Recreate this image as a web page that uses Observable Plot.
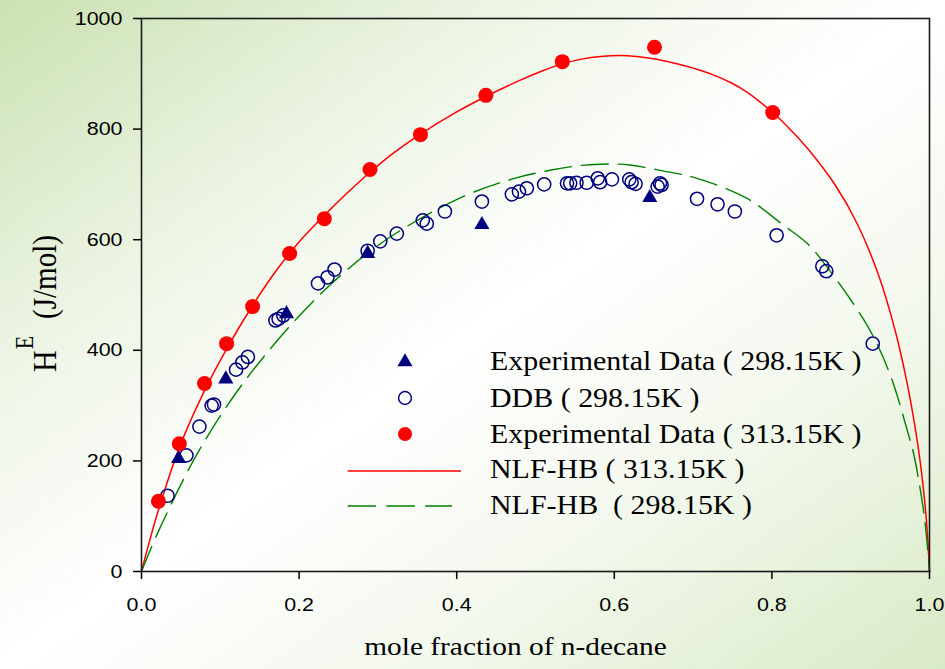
<!DOCTYPE html>
<html>
<head>
<meta charset="utf-8">
<script src="https://cdn.jsdelivr.net/npm/d3@7"></script>
<script src="https://cdn.jsdelivr.net/npm/@observablehq/plot@0.6"></script>
<style>
  html, body { margin: 0; padding: 0; }
  body {
    width: 945px; height: 669px; overflow: hidden;
    background: linear-gradient(to bottom right, #cbe1b2 0%, #eef5e6 28%, #ffffff 50%, #f3f8ed 72%, #d9eac6 100%);
  }
  #chart { position: relative; width: 945px; height: 669px; }
</style>
</head>
<body>
<div id="chart"></div>
<script>
// ---- Data ----
const xTicks = [0, 0.2, 0.4, 0.6, 0.8, 1.0];
const yTicks = [0, 200, 400, 600, 800, 1000];

// Experimental Data (298.15K) - filled triangles
const exp298X = [0.047, 0.107, 0.184, 0.287, 0.432, 0.645];
const exp298Y = [204, 348, 466, 575, 627, 676];

// DDB (298.15K) - open circles
const ddbX = [0.033, 0.057, 0.0735, 0.089, 0.092, 0.120, 0.128, 0.135, 0.170, 0.174, 0.180,
  0.224, 0.236, 0.245, 0.287, 0.303, 0.324, 0.357, 0.362, 0.385, 0.432, 0.470, 0.479, 0.489,
  0.511, 0.540, 0.544, 0.552, 0.565, 0.579, 0.582, 0.597, 0.619, 0.622, 0.627, 0.655, 0.658,
  0.660, 0.705, 0.731, 0.753, 0.806, 0.864, 0.869, 0.928];
const ddbY = [137, 210, 262, 300, 302, 365, 378, 388, 454, 457, 463,
  521, 532, 546, 580, 597, 611, 635, 629, 651, 669, 682, 687, 693,
  700, 702, 702, 703, 703, 711, 704, 709, 709, 704, 701, 696, 702,
  699, 674, 664, 651, 608, 552, 543, 412];

// Experimental Data (313.15K) - filled red circles
const exp313X = [0.0215, 0.048, 0.080, 0.108, 0.141, 0.188, 0.232, 0.290, 0.354, 0.437, 0.534, 0.651, 0.801];
const exp313Y = [127, 231, 340, 412, 479, 575, 638, 727, 790, 861, 922, 948, 830];

// NLF-HB (313.15K) - red solid curve
const fit313X = [0, 0.01, 0.02, 0.048, 0.08, 0.109, 0.141, 0.172, 0.2, 0.232, 0.26, 0.29, 0.32, 0.354,
  0.4, 0.437, 0.48, 0.51, 0.534, 0.56, 0.5825, 0.6066, 0.6282, 0.6497, 0.67, 0.6904, 0.7069, 0.7246,
  0.7462, 0.7678, 0.801, 0.8236, 0.8464, 0.8807, 0.9086, 0.9353, 0.9569, 0.9708, 0.981, 0.9886,
  0.9949, 0.9975, 1.0];
const fit313Y = [0, 54, 104, 224, 327, 405, 481, 546, 596, 644, 683, 722, 757, 791,
  831, 859, 888, 906, 918, 927, 931.3, 933, 931.3, 927.2, 921.3, 914.2, 907.3, 898.5,
  885.1, 867.5, 830, 799, 763, 698, 628, 536, 433, 346, 267, 194,
  112, 65, 0];

// NLF-HB (298.15K) - green dashed curve
const fit298X = [0, 0.02, 0.06, 0.087, 0.119, 0.155, 0.198, 0.24, 0.29, 0.338, 0.408, 0.471, 0.52,
  0.556, 0.59, 0.62, 0.66, 0.705, 0.768, 0.814, 0.845, 0.873, 0.915, 0.935, 0.954, 0.971, 0.98,
  0.99, 0.995, 1.0];
const fit298Y = [0, 68, 185, 252, 321, 388, 459, 519, 579, 625, 678, 710, 726,
  734, 737, 735, 725, 711, 675, 627, 593, 545, 459, 407, 340, 259, 212,
  133, 80, 0];

const legendLabels = [
  "Experimental Data ( 298.15K )",
  "DDB ( 298.15K )",
  "Experimental Data ( 313.15K )",
  "NLF-HB ( 313.15K )",
  "NLF-HB  ( 298.15K )"
];
const xTitle = "mole fraction of n-decane";

// ---- Build tables ----
const zip = (xs, ys) => xs.map((x, i) => ({x, y: ys[i]}));
const exp298 = zip(exp298X, exp298Y);
const ddb = zip(ddbX, ddbY);
const exp313 = zip(exp313X, exp313Y);
const fit313 = zip(fit313X, fit313Y);
const fit298 = zip(fit298X, fit298Y);

const NAVY = "#00007f", RED = "#ff0000", GREEN = "#008000";
const SX = 1.13; // horizontal stretch of the reference's lettering
const SERIF = "'Liberation Serif', 'Times New Roman', 'DejaVu Serif', serif";
const SANS = "'Liberation Sans', Arial, sans-serif";

const plot = Plot.plot({
  width: 945,
  height: 669,
  marginLeft: 141,
  marginRight: 16,
  marginTop: 18,
  marginBottom: 98,
  style: {background: "transparent", fontFamily: SANS, fontSize: "19px", color: "#000"},
  x: {domain: [0, 1]},
  y: {domain: [0, 1000]},
  marks: [
    Plot.line(fit313, {x: "x", y: "y", stroke: RED, strokeWidth: 1.5, curve: "catmull-rom"}),
    Plot.line(fit298, {x: "x", y: "y", stroke: GREEN, strokeWidth: 1.4, strokeDasharray: "27,10", curve: "catmull-rom"}),
    Plot.dot(ddb, {x: "x", y: "y", r: 6.6, stroke: NAVY, strokeWidth: 1.5, fill: "none"}),
    Plot.dot(exp298, {x: "x", y: "y", r: 5.6, symbol: "triangle", fill: NAVY, stroke: "none"}),
    Plot.dot(exp313, {x: "x", y: "y", r: 7.5, fill: RED, stroke: "none"}),
    Plot.frame({stroke: "#1a1a1a", strokeWidth: 1.6}),
    Plot.axisX({ticks: xTicks, tickFormat: d3.format(".1f"), tickSize: 8, tickPadding: 18, strokeWidth: 1.5, label: null}),
    Plot.axisY({ticks: yTicks, tickFormat: d3.format("d"), tickSize: 8, tickPadding: 11, strokeWidth: 1.5, label: null}),
    Plot.text([xTitle], {frameAnchor: "bottom", dx: -20, dy: 83, fontFamily: SERIF, fontSize: 26, fill: "#000"})
  ]
});

document.getElementById("chart").appendChild(plot);

// Apply the horizontal stretch seen in the reference lettering
plot.querySelectorAll('g[aria-label$="tick label"] text, g[aria-label="text"] text').forEach(t => {
  t.setAttribute("transform", (t.getAttribute("transform") || "") + ` scale(${SX},1)`);
});

const svg = d3.select(plot);

// Y axis title: H^E (J/mol)
const yt = svg.append("text")
  .attr("transform", `translate(56,372) scale(${SX},1) rotate(-90)`)
  .attr("text-anchor", "start")
  .style("font-family", SERIF)
  .attr("fill", "#000");
yt.append("tspan").attr("font-size", 30).text("H");
yt.append("tspan").attr("font-size", 22).attr("dy", -20).attr("dx", 1).text("E");
yt.append("tspan").attr("font-size", 29).attr("dy", 20).attr("dx", 17).text("(J/mol)");

// Legend
const lg = svg.append("g").attr("text-anchor", "start");
const symX = 405, textX = 490;
const baselines = [370, 407, 443, 478, 514];
const centers = baselines.map(b => b - 9);
lg.append("path")
  .attr("d", d3.symbol(d3.symbolTriangle, 5.6 * 5.6 * Math.PI)())
  .attr("transform", `translate(${symX},${centers[0] + 1})`)
  .attr("fill", NAVY);
lg.append("circle").attr("cx", symX).attr("cy", centers[1]).attr("r", 6.4)
  .attr("fill", "none").attr("stroke", NAVY).attr("stroke-width", 1.5);
lg.append("circle").attr("cx", symX).attr("cy", centers[2]).attr("r", 7)
  .attr("fill", RED);
lg.append("line").attr("x1", 347.6).attr("x2", 461).attr("y1", centers[3] + 2).attr("y2", centers[3] + 2)
  .attr("stroke", RED).attr("stroke-width", 1.5);
lg.append("line").attr("x1", 347.6).attr("x2", 452).attr("y1", centers[4] + 1).attr("y2", centers[4] + 1)
  .attr("stroke", GREEN).attr("stroke-width", 1.5).attr("stroke-dasharray", "28.5,10.3");
legendLabels.forEach((s, i) => {
  lg.append("text")
    .attr("transform", `translate(${textX},${baselines[i]}) scale(${SX},1)`)
    .attr("text-anchor", "start")
    .style("font-family", SERIF)
    .attr("font-size", 26.5)
    .attr("fill", "#000")
    .style("white-space", "pre")
    .text(s);
});
</script>
</body>
</html>
